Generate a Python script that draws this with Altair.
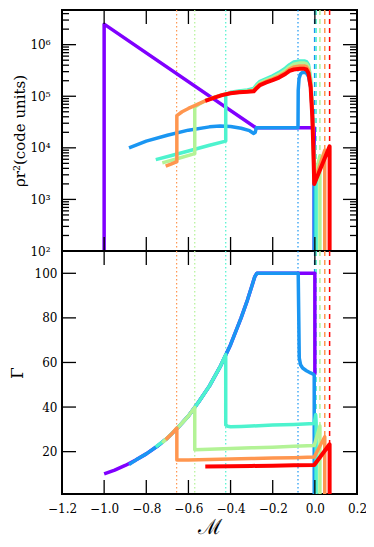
import altair as alt
import pandas as pd

FONT = "DejaVu Serif"
PURPLE, BLUE, CYAN, GREEN, ORANGE, RED = "#8000ff", "#1a96f2", "#4df3ce", "#b3f396", "#ff964f", "#ff0000"

# ---------------- top panel: rho r^2 ----------------
purple_top_x = [-1.0, -1.0, -0.28, -0.003, -0.003]
purple_top_y = [100, 2.5e6, 2.45e4, 2.45e4, 100]

blue_top_x = [-0.882, -0.8, -0.7, -0.6, -0.5, -0.45, -0.4, -0.35, -0.31, -0.29, -0.283, -0.278, -0.08,
              -0.079, -0.075, -0.068, -0.06, -0.05, -0.04, -0.03, -0.02, -0.012, -0.006, -0.003, -0.003]
blue_top_y = [1.0e4, 1.35e4, 1.75e4, 2.2e4, 2.55e4, 2.65e4, 2.6e4, 2.4e4, 2.15e4, 1.9e4, 2.0e4, 2.45e4, 2.45e4,
              1.3e5, 2.2e5, 2.7e5, 2.9e5, 2.9e5, 2.8e5, 2.4e5, 1.5e5, 5e4, 1e4, 2e3, 100]

cyan_top_x = [-0.755, -0.68, -0.6, -0.5, -0.423, -0.423, -0.40, -0.36, -0.32, -0.29, -0.275, -0.26, -0.23,
              -0.20, -0.17, -0.14, -0.12, -0.10, -0.07, -0.05, -0.04, -0.03, -0.02, -0.012, -0.007, -0.003,
              0.006, 0.006]
cyan_top_y = [5.9e3, 7.1e3, 8.7e3, 1.12e4, 1.35e4, 1.05e5, 1.2e5, 1.27e5, 1.33e5, 1.42e5, 1.7e5, 1.95e5, 2.2e5,
              2.5e5, 2.9e5, 3.5e5, 4.1e5, 4.6e5, 4.85e5, 4.85e5, 4.7e5, 4.1e5, 2.2e5, 6e4, 1.3e4, 3e3,
              4.5e3, 100]

green_top_x = [-0.724, -0.65, -0.57, -0.57, -0.55, -0.52, -0.48, -0.44, -0.40, -0.36, -0.32, -0.29, -0.275,
               -0.26, -0.23, -0.20, -0.17, -0.14, -0.12, -0.10, -0.07, -0.05, -0.04, -0.03, -0.02, -0.012,
               -0.007, -0.003, 0.024, 0.024]
green_top_y = [5.1e3, 6.2e3, 7.7e3, 6.2e4, 7.0e4, 8.2e4, 9.5e4, 1.07e5, 1.16e5, 1.22e5, 1.26e5, 1.33e5, 1.6e5,
               1.82e5, 2.05e5, 2.3e5, 2.65e5, 3.15e5, 3.7e5, 4.2e5, 4.4e5, 4.4e5, 4.25e5, 3.7e5, 2.0e5, 5e4,
               1.1e4, 2.5e3, 7e3, 100]

orange_top_x = [-0.708, -0.68, -0.655, -0.655, -0.63, -0.60, -0.57, -0.55, -0.52, -0.48, -0.44, -0.40, -0.36,
                -0.32, -0.29, -0.275, -0.26, -0.23, -0.20, -0.17, -0.14, -0.12, -0.10, -0.07, -0.05, -0.04,
                -0.03, -0.02, -0.012, -0.007, -0.003, 0.047, 0.047]
orange_top_y = [4.4e3, 4.9e3, 5.4e3, 4.2e4, 5.0e4, 5.8e4, 6.6e4, 7.2e4, 8.1e4, 9.4e4, 1.06e5, 1.15e5, 1.2e5,
                1.23e5, 1.29e5, 1.52e5, 1.72e5, 1.94e5, 2.17e5, 2.47e5, 2.9e5, 3.35e5, 3.7e5, 3.85e5, 3.85e5,
                3.75e5, 3.25e5, 1.75e5, 4.5e4, 1e4, 2.2e3, 9e3, 100]

red_top_x = [-0.52, -0.48, -0.44, -0.40, -0.36, -0.32, -0.29, -0.275, -0.26, -0.23, -0.20, -0.17, -0.14,
             -0.12, -0.10, -0.07, -0.05, -0.04, -0.03, -0.02, -0.012, -0.007, -0.003, 0.070, 0.070]
red_top_y = [8.1e4, 9.3e4, 1.05e5, 1.14e5, 1.2e5, 1.22e5, 1.25e5, 1.45e5, 1.65e5, 1.85e5, 2.05e5, 2.3e5, 2.7e5,
             3.1e5, 3.3e5, 3.4e5, 3.4e5, 3.3e5, 2.8e5, 1.5e5, 4e4, 9e3, 2e3, 1.07e4, 100]

# ---------------- bottom panel: Gamma ----------------
purple_bot_x = [-1.0, -0.95, -0.9, -0.85, -0.8, -0.75, -0.7, -0.65, -0.6, -0.55, -0.5, -0.45, -0.4, -0.35,
                -0.32, -0.3, -0.285, -0.275, 0.0, 0.0]
purple_bot_y = [10, 11.7, 13.8, 16.2, 19, 22.3, 26.1, 30.8, 36, 42.5, 49.5, 58, 68, 80,
                88, 94, 98.5, 100, 100, 54.5]

blue_bot_x = [-0.882, -0.85, -0.8, -0.75, -0.7, -0.65, -0.6, -0.55, -0.5, -0.45, -0.4, -0.35, -0.32, -0.3,
              -0.285, -0.275, -0.079, -0.077, -0.074, -0.068, -0.058, -0.04, -0.02, -0.008, -0.003, -0.003]
blue_bot_y = [14.2, 16.2, 19, 22.3, 26.1, 30.8, 36, 42.5, 49.5, 58, 68, 80, 88, 94,
              98.5, 100, 100, 85, 62, 59, 57.5, 56.3, 55.3, 54.8, 54.3, 1]

cyan_bot_x = [-0.755, -0.7, -0.65, -0.6, -0.55, -0.5, -0.45, -0.423, -0.423, -0.415, -0.4, -0.35, -0.3,
              -0.2, -0.1, -0.003, 0.004, 0.006, 0.006]
cyan_bot_y = [22.1, 26.1, 30.8, 36, 42.5, 49.5, 58, 63.5, 32, 31.4, 31.2, 31.3, 31.5,
              31.9, 32.2, 32.6, 36.5, 33, 1]

green_bot_x = [-0.724, -0.7, -0.65, -0.6, -0.57, -0.57, -0.5, -0.4, -0.3, -0.2, -0.1, -0.003, 0.024, 0.024]
green_bot_y = [24.0, 26.1, 30.8, 36, 39.8, 20.9, 21.1, 21.4, 21.7, 22.0, 22.4, 22.8, 31.5, 1]

orange_bot_x = [-0.708, -0.68, -0.655, -0.655, -0.6, -0.5, -0.4, -0.3, -0.2, -0.1, -0.003, 0.047, 0.047]
orange_bot_y = [25.4, 27.9, 30.6, 16.2, 16.3, 16.5, 16.7, 16.9, 17.1, 17.3, 17.6, 26.7, 1]

red_bot_x = [-0.52, -0.4, -0.3, -0.2, -0.1, -0.003, 0.070, 0.070]
red_bot_y = [13.3, 13.5, 13.6, 13.7, 13.85, 14.0, 23.3, 1]

# vertical marker lines
dotted_x = [-0.656, -0.570, -0.423, -0.080]
dotted_c = [ORANGE, GREEN, CYAN, BLUE]
dashed_x = [-0.001, 0.006, 0.024, 0.047, 0.070]
dashed_c = [BLUE, CYAN, GREEN, ORANGE, RED]

# tick positions
x_ticks = [-1.0, -0.8, -0.6, -0.4, -0.2, 0.0]
x_labels = [-1.2, -1.0, -0.8, -0.6, -0.4, -0.2, 0.0, 0.2]
top_major = [1e3, 1e4, 1e5, 1e6]
top_labels = [1e2, 1e3, 1e4, 1e5, 1e6]
top_minor = [m * 10 ** k for k in range(2, 7) for m in range(2, 10) if m * 10 ** k < 4.7e6]
bot_ticks = [20, 40, 60, 80, 100]

W, H_TOP, H_BOT = 295, 241, 243
MAJ, MIN = 14, 7

xscale = alt.Scale(domain=[-1.2, 0.2], nice=False, zero=False)
ytop_scale = alt.Scale(type="log", domain=[100, 4.7e6], nice=False)
ybot_scale = alt.Scale(domain=[1, 110], nice=False, zero=False)

common_axis = dict(ticks=False, domain=False, grid=False, labelFont=FONT, labelFontSize=12,
                   labelColor="black", titleFont=FONT, titleColor="black", titleFontWeight="normal",
                   labelOverlap=False, labelFlush=False)

x_axis_bot = alt.Axis(values=x_labels, format=".1f", labelPadding=9, title="ℳ", titleFontSize=21,
                      titlePadding=2, **common_axis)
y_axis_top = alt.Axis(values=top_labels, labelPadding=12, title="ρr²(code units)", titleFontSize=15,
                      titlePadding=2,
                      labelExpr="'10' + (datum.value < 500 ? '²' : datum.value < 5000 ? '³' : datum.value < 50000 ? '⁴' : datum.value < 500000 ? '⁵' : '⁶')",
                      **common_axis)
y_axis_bot = alt.Axis(values=bot_ticks, labelPadding=5, title="Γ", titleFontSize=17, titlePadding=8,
                      **common_axis)


def xenc(field, bottom):
    return alt.X(field, type="quantitative", scale=xscale, axis=x_axis_bot if bottom else None)


def yenc(field, bottom):
    if bottom:
        return alt.Y(field, type="quantitative", scale=ybot_scale, axis=y_axis_bot)
    return alt.Y(field, type="quantitative", scale=ytop_scale, axis=y_axis_top)


def line(xs, ys, color, bottom, width=3.5):
    df = pd.DataFrame({"x": xs, "y": ys, "i": list(range(len(xs)))})
    return alt.Chart(df).mark_line(color=color, strokeWidth=width, clip=True, strokeJoin="round").encode(
        x=xenc("x", bottom), y=yenc("y", bottom), order=alt.Order("i:Q"))


def vlines(bottom):
    dot = pd.DataFrame({"x": dotted_x, "c": dotted_c})
    dash = pd.DataFrame({"x": dashed_x, "c": dashed_c})
    a = alt.Chart(dot).mark_rule(strokeWidth=1.2, strokeDash=[1.5, 2.5]).encode(
        x=xenc("x", bottom), color=alt.Color("c:N", scale=None))
    b = alt.Chart(dash).mark_rule(strokeWidth=1.5, strokeDash=[5, 4]).encode(
        x=xenc("x", bottom), color=alt.Color("c:N", scale=None))
    return [a, b]


def tick_layers(bottom, height, ymaj, ymin):
    layers = []
    xdf = pd.DataFrame({"v": x_ticks})
    layers.append(alt.Chart(xdf).mark_rule(color="black", strokeWidth=1.3).encode(
        x=xenc("v", bottom), y=alt.value(0), y2=alt.value(MAJ)))
    layers.append(alt.Chart(xdf).mark_rule(color="black", strokeWidth=1.3).encode(
        x=xenc("v", bottom), y=alt.value(height), y2=alt.value(height - MAJ)))
    for vals, ln in ((ymaj, MAJ), (ymin, MIN)):
        if not vals:
            continue
        ydf = pd.DataFrame({"v": vals})
        layers.append(alt.Chart(ydf).mark_rule(color="black", strokeWidth=1.3).encode(
            y=yenc("v", bottom), x=alt.value(0), x2=alt.value(ln)))
        layers.append(alt.Chart(ydf).mark_rule(color="black", strokeWidth=1.3).encode(
            y=yenc("v", bottom), x=alt.value(W), x2=alt.value(W - ln)))
    return layers


top_layers = vlines(False) + [
    line(purple_top_x, purple_top_y, PURPLE, False),
    line(blue_top_x, blue_top_y, BLUE, False),
    line(cyan_top_x, cyan_top_y, CYAN, False),
    line(green_top_x, green_top_y, GREEN, False),
    line(orange_top_x, orange_top_y, ORANGE, False),
    line(red_top_x, red_top_y, RED, False, 4),
] + tick_layers(False, H_TOP, top_major, top_minor)

bot_layers = vlines(True) + [
    line(purple_bot_x, purple_bot_y, PURPLE, True),
    line(blue_bot_x, blue_bot_y, BLUE, True),
    line(cyan_bot_x, cyan_bot_y, CYAN, True),
    line(green_bot_x, green_bot_y, GREEN, True),
    line(orange_bot_x, orange_bot_y, ORANGE, True),
    line(red_bot_x, red_bot_y, RED, True, 4),
] + tick_layers(True, H_BOT, bot_ticks, [])

top = alt.layer(*top_layers).properties(width=W, height=H_TOP)
bot = alt.layer(*bot_layers).properties(width=W, height=H_BOT)

chart = alt.vconcat(top, bot, spacing=0, bounds="flush").properties(
    padding={"left": -1, "top": 0, "right": -2, "bottom": 0}
).configure_view(stroke="black", strokeWidth=2)

chart.save("out.html", embed_options={"renderer": "svg", "actions": False})
